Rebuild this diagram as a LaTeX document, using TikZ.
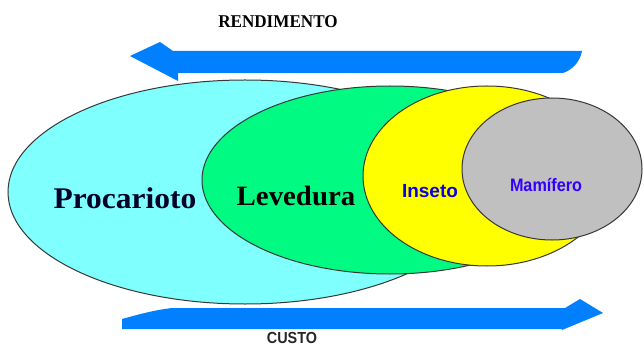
\documentclass[tikz,border=0pt]{standalone}
\usepackage{fontspec}
\setmainfont{Liberation Serif}
\setsansfont{Liberation Sans}
\definecolor{cyanfill}{RGB}{128,255,255}
\definecolor{greenfill}{RGB}{0,250,130}
\definecolor{yellowfill}{RGB}{255,255,0}
\definecolor{grayfill}{RGB}{192,192,192}
\definecolor{arrowblue}{RGB}{0,128,255}
\definecolor{edgegray}{RGB}{55,55,55}
\definecolor{labelblue}{RGB}{10,0,230}
\definecolor{mamblue}{RGB}{50,0,255}
\definecolor{darknavy}{RGB}{0,0,40}
\tikzset{
  blob/.style={draw=edgegray, line width=1pt},
  serifbig/.style={font=\rmfamily\bfseries\fontsize{30}{36}\selectfont, inner sep=0pt, anchor=base},
  sanslabel/.style={font=\sffamily\bfseries\fontsize{19}{23}\selectfont, inner sep=0pt, anchor=base, text=labelblue},
  headlabel/.style={inner sep=0pt, anchor=base},
  bigarrow/.style={fill=arrowblue}
}
\begin{document}
\begin{tikzpicture}[x=1pt,y=-1pt]
\useasboundingbox (0,0) rectangle (644,347);
\fill[white] (0,0) rectangle (644,347);
% ellipses
\draw[blob, fill=cyanfill] (245,192) ellipse [x radius=237pt, y radius=112pt];
\draw[blob, fill=greenfill] (390,180) ellipse [x radius=188pt, y radius=94pt];
\draw[blob, fill=yellowfill] (487,176) ellipse [x radius=124pt, y radius=90pt];
\draw[blob, fill=grayfill] (552,169) ellipse [x radius=90pt, y radius=71pt];
% labels
\node[serifbig, text=darknavy, xscale=1.05] (proc) at (125,208) {Procarioto};
\node[serifbig, font=\rmfamily\bfseries\fontsize{28}{34}\selectfont, text=black, xscale=1.03] (lev) at (296,205) {Levedura};
\node[sanslabel] (ins) at (430,198) {Inseto};
\node[sanslabel, font=\sffamily\bfseries\fontsize{18}{22}\selectfont, text=mamblue, xscale=0.9] (mam) at (546,192) {Mamífero};
% arrows
\fill[bigarrow] (130,56) -- (160,42) -- (173,51) -- (582,51)
  .. controls (580,62) and (572,70) .. (563,73) -- (178,73) -- (178,81) -- cycle;
\fill[bigarrow] (122,319) .. controls (140,314) and (155,310) .. (172,308)
  -- (565,308) -- (580,299) -- (603,313) -- (562,330) -- (562,329) -- (122,329) -- cycle;
% arrow titles
\node[headlabel, font=\rmfamily\bfseries\fontsize{18}{22}\selectfont, xscale=0.95] (rend) at (278,28) {RENDIMENTO};
\node[headlabel, font=\sffamily\bfseries\fontsize{16}{20}\selectfont, xscale=0.9, text=black!85] (custo) at (292,343) {CUSTO};
\end{tikzpicture}
\end{document}
